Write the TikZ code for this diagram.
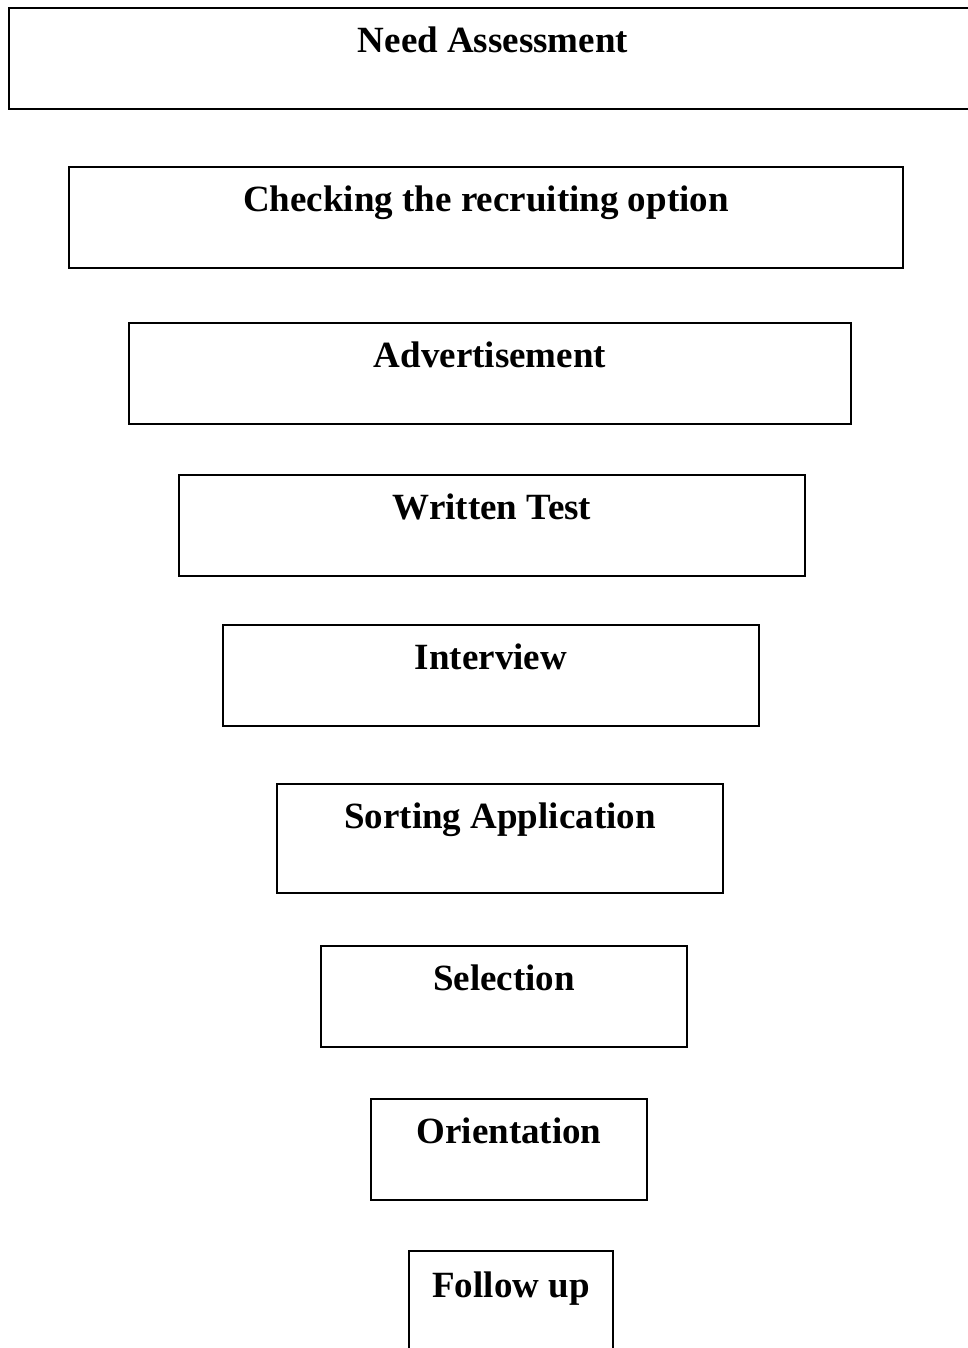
\documentclass[tikz,border=0pt]{standalone}
\usepackage{fontspec}
\setmainfont{Liberation Serif}
\usepackage{tikz}

\begin{document}
\begin{tikzpicture}[x=1pt, y=-1pt,
  stage/.style={draw, line width=1.8pt, inner sep=0pt, anchor=north,
    text height=45pt, text depth=56pt, align=center,
    font=\fontsize{37}{44}\selectfont\bfseries}]
  \useasboundingbox (0,0) rectangle (967,1348);

  \node (need) [stage, minimum width=980pt, xshift=6pt] at (493, 7) {\hspace*{-12pt}Need Assessment};
  \node (check) [stage, minimum width=834pt] at (486, 166) {Checking the recruiting option};
  \node (advert) [stage, minimum width=722pt] at (490, 322) {Advertisement};
  \node (written) [stage, minimum width=626pt] at (492, 474) {Written Test};
  \node (interview) [stage, minimum width=536pt] at (491, 624) {Interview};
  \node (sorting) [stage, minimum width=446pt, text depth=64pt] at (500, 783) {Sorting Application};
  \node (select) [stage, minimum width=366pt] at (504, 945) {Selection};
  \node (orient) [stage, minimum width=276pt] at (509, 1098) {Orientation};
  \node (follow) [stage, minimum width=204pt, text height=47pt, text depth=80pt] at (511, 1250) {Follow up};
\end{tikzpicture}
\end{document}
